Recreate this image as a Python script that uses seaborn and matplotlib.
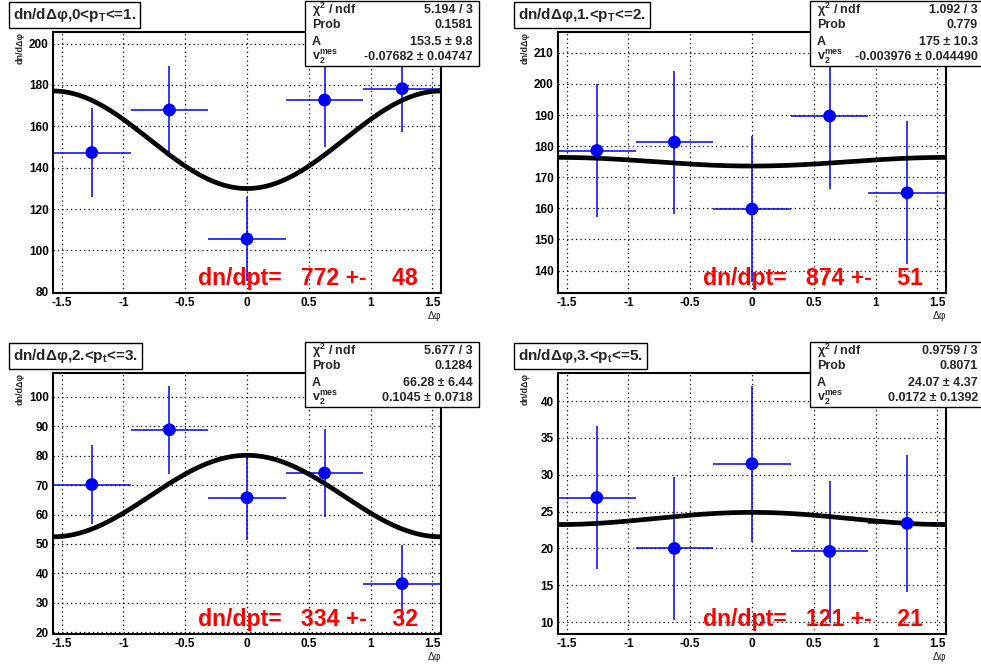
import numpy as np
import pandas as pd
import matplotlib
matplotlib.use("Agg")
import matplotlib.pyplot as plt
import seaborn as sns
from matplotlib.patches import Rectangle
from matplotlib.ticker import MultipleLocator

sns.set_style("white")
plt.rcParams['font.family'] = ['Liberation Sans', 'DejaVu Sans']
plt.rcParams['font.weight'] = 'bold'
plt.rcParams['mathtext.fontset'] = 'custom'
plt.rcParams['mathtext.rm'] = 'Liberation Sans:bold'
plt.rcParams['mathtext.it'] = 'Liberation Sans:bold'
plt.rcParams['mathtext.bf'] = 'Liberation Sans:bold'
plt.rcParams['mathtext.default'] = 'rm'

# bin centres in delta phi (5 bins over -pi/2..pi/2)
dphi = [-1.2566, -0.6283, 0.0, 0.6283, 1.2566]
dphi_err = 0.3142

# panel data
y1 = [147.3, 167.9, 105.5, 172.7, 178.2]
e1 = [21.5, 21.5, 20.5, 22.5, 21.0]
y2 = [178.6, 181.3, 159.8, 189.7, 165.0]
e2 = [21.5, 23.0, 23.5, 23.5, 23.0]
y3 = [70.2, 88.8, 65.7, 74.1, 36.5]
e3 = [13.5, 15.0, 14.3, 15.0, 13.0]
y4 = [26.9, 20.0, 31.5, 19.6, 23.4]
e4 = [9.7, 9.7, 10.6, 9.6, 9.3]

# fit parameters (from stat boxes)
fitA = [153.5, 175.0, 66.28, 24.07]
fitv2 = [-0.07682, -0.003976, 0.1045, 0.0172]

titles = ["dn/dΔφ,0<p$_{T}$<=1.", "dn/dΔφ,1.<p$_{T}$<=2.",
          "dn/dΔφ,2.<p$_{t}$<=3.", "dn/dΔφ,3.<p$_{t}$<=5."]
chi2 = ["5.194 / 3", "1.092 / 3", "5.677 / 3", "0.9759 / 3"]
prob = ["0.1581", "0.779", "0.1284", "0.8071"]
a_txt = ["153.5 ± 9.8", "175 ± 10.3", "66.28 ± 6.44", "24.07 ± 4.37"]
v2_txt = ["-0.07682 ± 0.04747", "-0.003976 ± 0.044490", "0.1045 ± 0.0718", "0.0172 ± 0.1392"]
dndpt = ["dn/dpt=   772 +-    48", "dn/dpt=   874 +-    51",
         "dn/dpt=   334 +-    32", "dn/dpt=   121 +-    21"]

ylims = [(79.4, 205.6), (132.8, 216.7), (19.4, 108.1), (8.4, 43.8)]
ymajor = [20, 10, 10, 5]
yminor = [4, 2, 2, 1]
yvals = [y1, y2, y3, y4]
yerrs = [e1, e2, e3, e4]

W, H = 981, 667
fig = plt.figure(figsize=(W / 100, H / 100), dpi=100)


def fx(x):
    return x / W


def fy(y):
    return 1 - y / H


# pixel offsets of each pad
offs = [(0, 0), (505, 0), (0, 341), (505, 341)]

for i in range(4):
    ox, oy = offs[i]
    l, r, t, b = 53 + ox, 441 + ox, 32 + oy, 293 + oy
    ax = fig.add_axes([fx(l), fy(b), (r - l) / W, (b - t) / H])
    ax.set_axisbelow(True)

    xs = np.linspace(-np.pi / 2, np.pi / 2, 300)
    fit = pd.DataFrame({"x": xs, "y": fitA[i] * (1 + 2 * fitv2[i] * np.cos(2 * xs))})
    pts = pd.DataFrame({"x": dphi, "y": yvals[i], "e": yerrs[i]})

    ax.errorbar(pts["x"], pts["y"], xerr=dphi_err, yerr=pts["e"], fmt='none',
                ecolor='#0000ff', elinewidth=1.1, capsize=0, zorder=2)
    sns.lineplot(data=fit, x="x", y="y", ax=ax, color='black', linewidth=3.4, zorder=3)
    sns.scatterplot(data=pts, x="x", y="y", ax=ax, color='#0000ff', s=85,
                    edgecolor='none', zorder=4)

    ax.set_xlim(-np.pi / 2, np.pi / 2)
    ax.set_ylim(*ylims[i])
    ax.xaxis.set_major_locator(MultipleLocator(0.5))
    ax.xaxis.set_minor_locator(MultipleLocator(0.1))
    ax.yaxis.set_major_locator(MultipleLocator(ymajor[i]))
    ax.yaxis.set_minor_locator(MultipleLocator(yminor[i]))
    ax.set_xticks([-1.5, -1, -0.5, 0, 0.5, 1, 1.5])
    ax.set_xticklabels(["-1.5", "-1", "-0.5", "0", "0.5", "1", "1.5"])
    ax.tick_params(which='major', direction='in', length=7, width=1.1,
                   labelsize=8.5, pad=3, top=False, right=False, colors='black')
    ax.tick_params(which='minor', direction='in', length=3.5, width=1.0,
                   top=False, right=False)
    ax.grid(True, which='major', color='black', linestyle=(0, (1, 2.5)), linewidth=0.9)
    for sp in ax.spines.values():
        sp.set_color('black')
        sp.set_linewidth(1.5)
    ax.set_xlabel("")
    ax.set_ylabel("")

    # axis titles
    fig.text(fx(20 + ox), fy(32 + oy), "dn/dΔφ", rotation=90, ha='center', va='top',
             fontsize=6.5)
    fig.text(fx(441 + ox), fy(311 + oy), "Δφ", ha='right', va='top', fontsize=7.5,
             fontweight='normal')

    # yield text
    fig.text(fx(198 + ox), fy(285 + oy), dndpt[i], ha='left', va='baseline',
             fontsize=16.6, color='#ff0000')

    # title box
    fig.text(fx(13 + ox), fy(15 + oy), titles[i], ha='left', va='center', fontsize=11,
             bbox=dict(boxstyle='square,pad=0.25', facecolor='white', edgecolor='black',
                       linewidth=1.0))

    # stats box
    bl, br, bt, bb = 305 + ox, 479 + ox, 1 + oy, 66 + oy
    fig.patches.append(Rectangle((fx(bl), fy(bb)), (br - bl) / W, (bb - bt) / H,
                                 transform=fig.transFigure, facecolor='white',
                                 edgecolor='black', linewidth=1.0, zorder=5))
    rows = [("χ$^{2}$ / ndf", chi2[i], 10), ("Prob", prob[i], 25),
            ("A", a_txt[i], 42), ("v$_{2}^{mes}$", v2_txt[i], 57)]
    for lab, val, ry in rows:
        fig.text(fx(bl + 7), fy(ry + oy), lab, ha='left', va='center', fontsize=9, zorder=6)
        fig.text(fx(br - 6), fy(ry + oy), val, ha='right', va='center', fontsize=9, zorder=6)

fig.savefig("out.png", dpi=100, facecolor='white')
